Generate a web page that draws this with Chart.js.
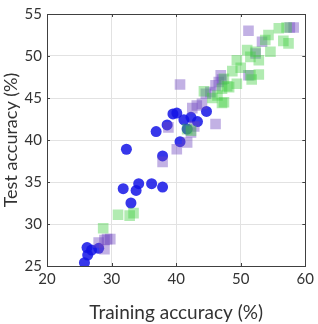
<!DOCTYPE html>
<html>
<head>
<meta charset="utf-8">
<script src="https://cdn.jsdelivr.net/npm/chart.js@4/dist/chart.umd.min.js"></script>
<style>
  html, body { margin: 0; padding: 0; background: #fff; }
  #wrap { width: 318px; height: 324px; }
</style>
</head>
<body>
<div id="wrap"><canvas id="scatter" width="318" height="324"></canvas></div>
<script>
// axis ticks
const xTicks = [20, 30, 40, 50, 60];
const yTicks = [25, 30, 35, 40, 45, 50, 55];

// blue circles: [train, test]
const blueTrain = [25.8, 26.3, 26.2, 26.9, 28.0, 33.0, 31.8, 33.8, 34.2, 36.2, 37.9, 32.3, 37.9, 36.9, 38.6, 39.5, 40.1, 40.6, 41.2, 42.3, 43.3, 44.7, 41.7];
const blueTest  = [25.4, 26.3, 27.2, 26.9, 27.1, 32.5, 34.2, 34.0, 34.8, 34.8, 34.4, 38.9, 38.1, 41.0, 41.8, 43.1, 43.2, 39.8, 42.4, 42.7, 42.2, 43.4, 41.3];

// purple squares
const purpleTrain = [28.0, 28.9, 29.3, 29.8, 28.9, 37.9, 38.8, 40.1, 41.7, 42.3, 42.8, 40.6, 42.5, 43.2, 44.0, 44.6, 45.3, 46.1, 46.6, 46.9, 46.1, 47.1, 51.2, 51.2, 52.3, 53.3, 57.6, 58.2];
const purpleTest  = [27.8, 28.1, 28.2, 28.2, 27.0, 37.4, 41.5, 38.9, 39.7, 40.9, 41.6, 46.6, 43.8, 44.1, 44.3, 45.5, 45.7, 46.5, 46.9, 47.7, 41.9, 47.2, 47.7, 53.0, 50.3, 51.7, 53.4, 53.4];

// green squares
const greenTrain = [28.7, 31.0, 32.8, 33.4, 41.7, 42.3, 44.3, 46.4, 47.4, 47.1, 47.9, 47.4, 48.2, 48.7, 49.4, 49.4, 50.0, 51.0, 51.5, 51.5, 51.7, 52.3, 52.8, 52.8, 53.8, 54.3, 54.6, 55.9, 56.6, 57.1, 57.4, 47.1, 45.6];
const greenTest  = [29.5, 31.1, 31.0, 31.3, 41.3, 41.1, 45.8, 45.3, 44.5, 46.1, 46.4, 47.3, 46.3, 48.2, 46.7, 49.5, 48.6, 50.7, 49.9, 47.7, 47.2, 50.5, 49.5, 47.8, 51.9, 52.5, 50.5, 53.3, 51.8, 53.4, 51.5, 44.4, 45.0];

function toPoints(xs, ys) {
    return xs.map((x, i) => ({ x: x, y: ys[i] }));
}

const FONT = 'Lato, "Open Sans", sans-serif';
const TEXT = '#333333';

// frame + inward tick marks, matlab style
const boxPlugin = {
    id: 'boxFrame',
    afterDraw(chart) {
        const { ctx, chartArea: a, scales } = chart;
        ctx.save();
        ctx.strokeStyle = '#404040';
        ctx.lineWidth = 1;
        ctx.beginPath();
        xTicks.forEach(v => {
            const px = Math.round(scales.x.getPixelForValue(v)) + 0.5;
            ctx.moveTo(px, a.bottom); ctx.lineTo(px, a.bottom - 3);
            ctx.moveTo(px, a.top); ctx.lineTo(px, a.top + 3);
        });
        yTicks.forEach(v => {
            const py = Math.round(scales.y.getPixelForValue(v)) + 0.5;
            ctx.moveTo(a.left, py); ctx.lineTo(a.left + 3, py);
            ctx.moveTo(a.right, py); ctx.lineTo(a.right - 3, py);
        });
        ctx.stroke();
        ctx.strokeRect(Math.round(a.left) + 0.5, Math.round(a.top) + 0.5,
            Math.round(a.right - a.left), Math.round(a.bottom - a.top));
        ctx.restore();
    }
};

new Chart(document.getElementById('scatter').getContext('2d'), {
    type: 'scatter',
    data: {
        datasets: [{
            label: 'green',
            data: toPoints(greenTrain, greenTest),
            pointStyle: 'rect',
            pointRadius: 7.5,
            borderWidth: 0,
            backgroundColor: 'rgba(60, 205, 60, 0.4)',
            order: 1
        }, {
            label: 'purple',
            data: toPoints(purpleTrain, purpleTest),
            pointStyle: 'rect',
            pointRadius: 7.5,
            borderWidth: 0,
            backgroundColor: 'rgba(110, 70, 190, 0.42)',
            order: 2
        }, {
            label: 'blue',
            data: toPoints(blueTrain, blueTest),
            pointStyle: 'circle',
            pointRadius: 5.5,
            borderWidth: 0,
            backgroundColor: 'rgba(20, 20, 230, 0.85)',
            order: 3
        }]
    },
    options: {
        responsive: false,
        animation: false,
        layout: { padding: { top: 6, right: 11, left: 0, bottom: 0 } },
        plugins: {
            legend: { display: false },
            tooltip: { enabled: false }
        },
        scales: {
            x: {
                type: 'linear',
                min: 20,
                max: 60,
                afterBuildTicks: s => { s.ticks = xTicks.map(v => ({ value: v })); },
                afterFit: s => { s.height = 58; },
                ticks: { color: TEXT, font: { family: FONT, size: 15 }, padding: 4 },
                grid: { color: '#e2e2e2', drawTicks: false },
                border: { display: false },
                title: {
                    display: true,
                    text: 'Training accuracy (%)',
                    color: TEXT,
                    font: { family: FONT, size: 19 },
                    padding: { top: 0, bottom: 0 }
                }
            },
            y: {
                type: 'linear',
                min: 25,
                max: 55,
                afterBuildTicks: s => { s.ticks = yTicks.map(v => ({ value: v })); },
                afterFit: s => { s.width = 47; },
                ticks: { color: TEXT, font: { family: FONT, size: 15 }, padding: 5 },
                grid: { color: '#e2e2e2', drawTicks: false },
                border: { display: false },
                title: {
                    display: true,
                    text: 'Test accuracy (%)',
                    color: TEXT,
                    font: { family: FONT, size: 18 },
                    padding: { top: 0, bottom: 2 }
                }
            }
        }
    },
    plugins: [boxPlugin]
});
</script>
</body>
</html>
